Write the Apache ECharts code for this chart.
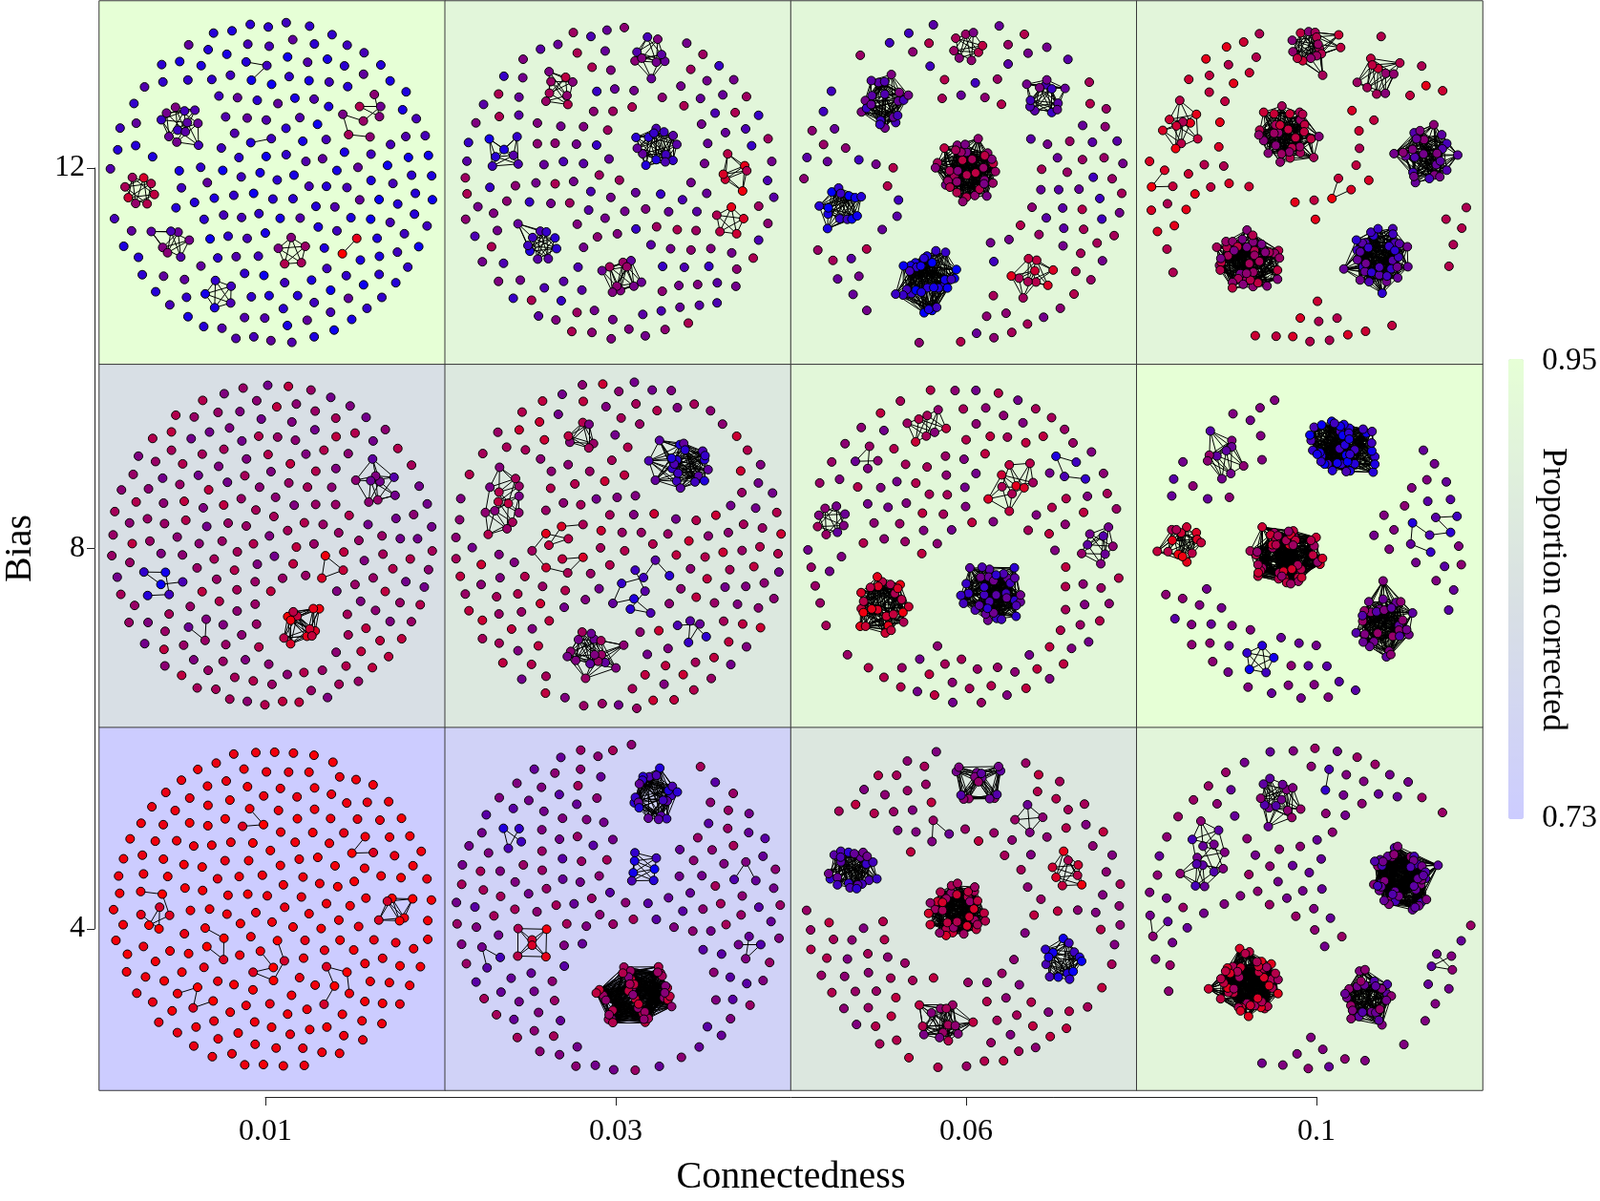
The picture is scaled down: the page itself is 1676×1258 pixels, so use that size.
<!DOCTYPE html>
<html>
<head>
<meta charset="utf-8">
<script src="https://cdn.jsdelivr.net/npm/echarts@6/dist/echarts.min.js"></script>
<style>
html, body { margin: 0; padding: 0; background: #fff; }
#chart { width: 1676px; height: 1258px; }
</style>
</head>
<body>
<div id="chart"></div>
<script>
const connectedness = ['0.01', '0.03', '0.06', '0.1'];
const biasRows = ['4', '8', '12'];
const legendTicks = [0.73, 0.95];

// proportion corrected, one value per connectedness level
const correctedBias4 = [0.73, 0.761, 0.863, 0.915];
const correctedBias8 = [0.828, 0.866, 0.919, 0.95];
const correctedBias12 = [0.95, 0.917, 0.919, 0.912];

// connected groups: [x share of panel, y share of panel, nodes, links per node, tone 0 blue .. 1 red]
const groupsB12C1 = [[0.156, 0.32, 12, 2, 0.35], [0.074, 0.49, 8, 2, 0.7], [0.195, 0.67, 7, 2, 0.4], [0.274, 0.84, 5, 2, 0.2],
    [0.81, 0.28, 8, 1, 0.55], [0.57, 0.75, 5, 2, 0.6], [0.48, 0.22, 3, 1, 0.15], [0.46, 0.34, 2, 1, 0.15], [0.79, 0.74, 2, 1, 0.9]];
const groupsB12C2 = [[0.327, 0.197, 8, 2, 0.6], [0.183, 0.35, 7, 2, 0.2], [0.676, 0.155, 9, 2, 0.4], [0.71, 0.365, 14, 4, 0.25],
    [0.9, 0.42, 6, 2, 0.8], [0.9, 0.6, 5, 2, 0.8], [0.31, 0.77, 10, 3, 0.25], [0.53, 0.81, 10, 3, 0.5]];
const groupsB12C3 = [[0.22, 0.275, 20, 6, 0.35], [0.48, 0.126, 8, 2, 0.6], [0.716, 0.21, 12, 3, 0.35], [0.433, 0.5, 35, 8, 0.6],
    [0.118, 0.59, 14, 4, 0.1], [0.37, 0.8, 30, 8, 0.12], [0.643, 0.834, 10, 2, 0.75]];
const groupsB12C4 = [[0.457, 0.155, 16, 3, 0.65], [0.705, 0.21, 10, 3, 0.65], [0.091, 0.35, 10, 2, 0.8], [0.418, 0.365, 30, 7, 0.65],
    [0.904, 0.435, 25, 7, 0.4], [0.298, 0.745, 40, 8, 0.6], [0.68, 0.76, 35, 8, 0.3], [0.127, 0.575, 3, 1, 0.85], [0.53, 0.59, 3, 1, 0.85]];
const groupsB8C1 = [[0.833, 0.334, 9, 2, 0.45], [0.186, 0.713, 6, 1, 0.15], [0.652, 0.806, 12, 3, 0.85], [0.26, 0.84, 3, 1, 0.5],
    [0.782, 0.67, 3, 2, 0.85]];
const groupsB8C2 = [[0.714, 0.208, 20, 6, 0.25], [0.345, 0.18, 6, 2, 0.6], [0.147, 0.334, 14, 2, 0.6], [0.29, 0.49, 10, 1, 0.75],
    [0.49, 0.66, 10, 1, 0.25], [0.38, 0.826, 16, 4, 0.5], [0.63, 0.77, 5, 1, 0.3]];
const groupsB8C3 = [[0.34, 0.138, 8, 2, 0.65], [0.148, 0.306, 4, 1, 0.5], [0.065, 0.447, 8, 2, 0.5], [0.649, 0.292, 10, 2, 0.75],
    [0.752, 0.236, 4, 1, 0.2], [0.885, 0.475, 8, 2, 0.45], [0.487, 0.607, 35, 8, 0.3], [0.198, 0.677, 25, 7, 0.8]];
const groupsB8C4 = [[0.578, 0.166, 40, 8, 0.15], [0.224, 0.236, 10, 3, 0.45], [0.52, 0.514, 45, 10, 0.7], [0.136, 0.545, 14, 3, 0.8],
    [0.726, 0.77, 30, 8, 0.45], [0.386, 0.778, 5, 2, 0.15], [0.873, 0.56, 7, 1, 0.25]];
const groupsB4C1 = [[0.074, 0.539, 7, 1, 0.95], [0.398, 0.244, 3, 1, 0.95], [0.209, 0.764, 4, 1, 0.95], [0.324, 0.68, 4, 1, 0.95],
    [0.496, 0.694, 6, 1, 0.95], [0.732, 0.735, 5, 1, 0.95], [0.923, 0.581, 6, 2, 0.95], [0.85, 0.37, 3, 1, 0.95]];
const groupsB4C2 = [[0.617, 0.146, 20, 6, 0.25], [0.567, 0.343, 7, 2, 0.15], [0.189, 0.23, 4, 1, 0.2], [0.3, 0.65, 6, 2, 0.8],
    [0.578, 0.764, 40, 10, 0.65], [0.897, 0.65, 4, 1, 0.4], [0.9, 0.43, 3, 1, 0.4], [0.18, 0.72, 3, 1, 0.35]];
const groupsB4C3 = [[0.546, 0.146, 15, 4, 0.45], [0.118, 0.385, 22, 6, 0.3], [0.417, 0.54, 35, 8, 0.7], [0.873, 0.385, 8, 2, 0.8],
    [0.836, 0.65, 14, 4, 0.15], [0.35, 0.834, 14, 4, 0.6], [0.434, 0.295, 3, 1, 0.5], [0.77, 0.2, 4, 2, 0.5]];
const groupsB4C4 = [[0.37, 0.16, 14, 3, 0.45], [0.153, 0.4, 14, 2, 0.4], [0.879, 0.413, 45, 10, 0.4], [0.298, 0.75, 45, 10, 0.75],
    [0.68, 0.736, 25, 6, 0.45], [0.062, 0.57, 3, 1, 0.45], [0.917, 0.68, 4, 1, 0.45], [0.56, 0.104, 2, 1, 0.2]];

// unconnected nodes per panel, by connectedness level
const looseB12 = [180, 150, 100, 60];
const looseB8 = [200, 160, 120, 60];
const looseB4 = [190, 150, 110, 80];

// tones seen among the unconnected nodes of each panel
const tonesB12C1 = [0.1, 0.25, 0.15, 0.32, 0.05, 0.2, 0.28, 0.12, 0.38, 0.18];
const tonesB12C2 = [0.45, 0.3, 0.55, 0.4, 0.62, 0.35, 0.5, 0.22, 0.68, 0.45];
const tonesB12C3 = [0.45, 0.6, 0.35, 0.65, 0.25, 0.55, 0.7, 0.4];
const tonesB12C4 = [0.8, 0.7, 0.85, 0.75, 0.9, 0.68];
const tonesB8C1 = [0.6, 0.5, 0.7, 0.55, 0.65, 0.45, 0.75, 0.6];
const tonesB8C2 = [0.6, 0.7, 0.5, 0.75, 0.55, 0.65, 0.45, 0.8];
const tonesB8C3 = [0.6, 0.7, 0.5, 0.75, 0.55, 0.65, 0.45];
const tonesB8C4 = [0.45, 0.5, 0.4, 0.55, 0.35, 0.5];
const tonesB4C1 = [0.95, 0.92, 0.97, 0.94];
const tonesB4C2 = [0.45, 0.55, 0.35, 0.6, 0.5, 0.4, 0.65];
const tonesB4C3 = [0.65, 0.55, 0.75, 0.5, 0.7, 0.6];
const tonesB4C4 = [0.45, 0.55, 0.4, 0.6, 0.5];

// tone variation inside a group, and the hops used to wire a group
const toneSpread = [0, 0.1, -0.08, 0.05, -0.12, 0.14, -0.04];
const linkSteps = [1, 2, 5, 11, 17, 3, 8, 13, 7, 19];

const serif = 'Liberation Serif';
const plotLeft = 104;
const plotTop = 1;
const plotWidth = 1449;
const plotHeight = 1141;
const panelWidth = plotWidth / 4;
const panelHeight = plotHeight / 3;

const panels = [
    { row: 0, col: 0, groups: groupsB12C1, loose: looseB12[0], tones: tonesB12C1 },
    { row: 0, col: 1, groups: groupsB12C2, loose: looseB12[1], tones: tonesB12C2 },
    { row: 0, col: 2, groups: groupsB12C3, loose: looseB12[2], tones: tonesB12C3 },
    { row: 0, col: 3, groups: groupsB12C4, loose: looseB12[3], tones: tonesB12C4 },
    { row: 1, col: 0, groups: groupsB8C1, loose: looseB8[0], tones: tonesB8C1 },
    { row: 1, col: 1, groups: groupsB8C2, loose: looseB8[1], tones: tonesB8C2 },
    { row: 1, col: 2, groups: groupsB8C3, loose: looseB8[2], tones: tonesB8C3 },
    { row: 1, col: 3, groups: groupsB8C4, loose: looseB8[3], tones: tonesB8C4 },
    { row: 2, col: 0, groups: groupsB4C1, loose: looseB4[0], tones: tonesB4C1 },
    { row: 2, col: 1, groups: groupsB4C2, loose: looseB4[1], tones: tonesB4C2 },
    { row: 2, col: 2, groups: groupsB4C3, loose: looseB4[2], tones: tonesB4C3 },
    { row: 2, col: 3, groups: groupsB4C4, loose: looseB4[3], tones: tonesB4C4 }
];

function toneColor(tone) {
    const t = Math.min(1, Math.max(0, tone));
    return `rgb(${Math.round(255 * t)},0,${Math.round(255 * (1 - t))})`;
}

function buildNetwork(panel) {
    const left = plotLeft + panel.col * panelWidth;
    const top = plotTop + panel.row * panelHeight;
    const nodes = [];
    const links = [];
    const seen = new Set();
    const degrees = panel.groups.map((g) => g[3]);
    panel.groups.forEach(([gx, gy, size, degree, tone]) => {
        const start = nodes.length;
        for (let i = 0; i < size; i++) {
            nodes.push({
                id: String(nodes.length),
                x: left + gx * panelWidth,
                y: top + gy * panelHeight,
                itemStyle: { color: toneColor(tone + toneSpread[i % toneSpread.length]) }
            });
        }
        for (let i = 0; i < size; i++) {
            for (let s = 0; s < degree; s++) {
                const step = linkSteps[s];
                if (degree === 1 && i + step >= size) {
                    continue;
                }
                const j = (i + step) % size;
                const key = start + ':' + Math.min(i, j) + '-' + Math.max(i, j);
                if (i === j || seen.has(key)) {
                    continue;
                }
                seen.add(key);
                // denser groups get longer links (echarts maps larger values to shorter links)
                links.push({ source: String(start + i), target: String(start + j), value: -degree });
            }
        }
    });
    for (let i = 0; i < panel.loose; i++) {
        nodes.push({
            id: String(nodes.length),
            itemStyle: { color: toneColor(panel.tones[i % panel.tones.length]) }
        });
    }
    return {
        type: 'graph',
        layout: 'force',
        left: left,
        top: top,
        width: panelWidth,
        height: panelHeight,
        roam: false,
        silent: true,
        symbol: 'circle',
        symbolSize: 9,
        label: { show: false },
        itemStyle: { borderColor: '#000', borderWidth: 1 },
        lineStyle: { color: '#000', width: 1, opacity: 1, curveness: 0 },
        force: {
            repulsion: 7,
            gravity: 0.1,
            edgeLength: [20 + 2 * Math.min(...degrees), 20 + 2 * Math.max(...degrees)],
            layoutAnimation: false
        },
        data: nodes,
        links: links,
        z: 3
    };
}

const heatData = [];
[correctedBias4, correctedBias8, correctedBias12].forEach((row, r) => {
    row.forEach((value, c) => heatData.push([c, r, value]));
});

const axisText = { fontFamily: serif, fontSize: 32, color: '#000' };

const chart = echarts.init(document.getElementById('chart'));
chart.setOption({
    animation: false,
    backgroundColor: '#fff',
    grid: [
        { left: plotLeft, top: plotTop, width: plotWidth, height: plotHeight },
        { left: 96, top: 176, width: 10, height: 797 },
        { left: 278, top: 1100, width: 1101, height: 49 },
        { left: 1587, top: 378, width: 13, height: 479 }
    ],
    xAxis: [
        { gridIndex: 0, type: 'category', data: connectedness, show: false },
        { gridIndex: 1, type: 'value', show: false },
        {
            gridIndex: 2,
            type: 'category',
            data: connectedness,
            boundaryGap: false,
            axisLine: { lineStyle: { color: '#222', width: 1 } },
            axisTick: { length: 9, lineStyle: { color: '#222' } },
            axisLabel: { ...axisText, margin: 21 },
            name: 'Connectedness',
            nameLocation: 'middle',
            nameGap: 64,
            nameMoveOverlap: false,
            nameTextStyle: { fontFamily: serif, fontSize: 40, color: '#000' }
        },
        { gridIndex: 3, type: 'value', show: false }
    ],
    yAxis: [
        { gridIndex: 0, type: 'category', data: biasRows, show: false },
        {
            gridIndex: 1,
            type: 'value',
            min: 4,
            max: 12,
            interval: 4,
            axisLine: { show: true, lineStyle: { color: '#222', width: 1 } },
            axisTick: { show: true, length: 8, lineStyle: { color: '#222' } },
            splitLine: { show: false },
            axisLabel: { ...axisText, margin: 10 },
            name: 'Bias',
            nameLocation: 'middle',
            nameRotate: 90,
            nameGap: 58,
            nameTextStyle: { fontFamily: serif, fontSize: 40, color: '#000' }
        },
        { gridIndex: 2, type: 'value', show: false },
        {
            gridIndex: 3,
            type: 'value',
            position: 'right',
            min: 0.73,
            max: 0.95,
            axisLine: { show: true, lineStyle: { color: '#444', width: 1 } },
            axisTick: { show: true, length: 5, customValues: legendTicks, lineStyle: { color: '#444' } },
            axisLabel: { ...axisText, fontSize: 33, margin: 19, customValues: legendTicks, formatter: (v) => v.toFixed(2) },
            splitLine: { show: false },
            name: 'Proportion corrected',
            nameLocation: 'middle',
            nameRotate: -90,
            nameGap: 12,
            nameMoveOverlap: false,
            nameTextStyle: { fontFamily: serif, fontSize: 36, color: '#000' }
        }
    ],
    visualMap: {
        type: 'continuous',
        min: 0.73,
        max: 0.95,
        seriesIndex: 0,
        calculable: false,
        show: true,
        left: 1580,
        top: 376,
        padding: 0,
        itemWidth: 16,
        itemHeight: 482,
        inRange: { color: ['#ccccff', '#d9e1e2', '#e6ffd6'] }
    },
    series: [
        {
            type: 'heatmap',
            xAxisIndex: 0,
            yAxisIndex: 0,
            data: heatData,
            silent: true,
            itemStyle: { borderColor: '#3a3a3a', borderWidth: 1 },
            z: 1
        },
        ...panels.map(buildNetwork)
    ]
});
</script>
</body>
</html>
